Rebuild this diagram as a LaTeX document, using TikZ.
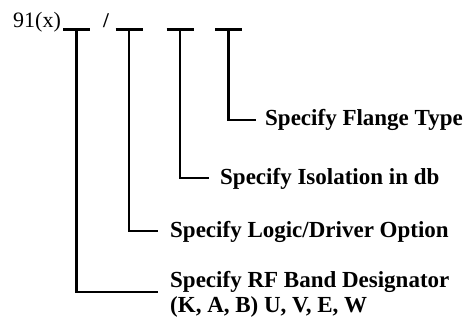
\documentclass[tikz,border=0pt]{standalone}
\usepackage{fontspec}
\setmainfont{Liberation Serif}
\usetikzlibrary{positioning}

\begin{document}
\begin{tikzpicture}[
  x=1pt, y=-1pt,
  lead/.style={line width=2.1pt},
  spec/.style={font=\bfseries\fontsize{23}{25}\selectfont, inner sep=0pt, anchor=base west, align=left},
  code/.style={font=\fontsize{22}{24}\selectfont, inner sep=0pt, anchor=base west}
]
\useasboundingbox (0,0) rectangle (473,323);

% Part number template
\node[code] (pn) at (13,28) {91(x)};
\node[code, font=\bfseries\fontsize{21}{24}\selectfont] (sl) at (103,28) {/};

\coordinate (b1) at (76.5,29.5);
\coordinate (b2) at (129,29.5);
\coordinate (b3) at (180,29.5);
\coordinate (b4) at (228.5,29.5);

\foreach \c in {b1,b2,b3,b4}
  \draw[lead] ([xshift=-13.5pt]\c) -- ([xshift=13.5pt]\c);

% Option labels
\node[spec] (flange) at (265,126) {Specify Flange Type};
\node[spec] (iso)    at (220,184) {Specify Isolation in db};
\node[spec] (logic)  at (170,237) {Specify Logic/Driver Option};
\node[spec] (band)   at (170,312) {Specify RF Band Designator\\(K, A, B) U, V, E, W};

% Leads: template -> labels
\draw[lead] (b4) |- ([xshift=-9pt]flange.west);
\draw[lead] (b3) |- ([xshift=-11pt]iso.west);
\draw[lead] (b2) |- ([xshift=-12pt]logic.west);
\draw[lead] (b1) |- ([xshift=-12pt, yshift=2pt]band.west);

\end{tikzpicture}
\end{document}
